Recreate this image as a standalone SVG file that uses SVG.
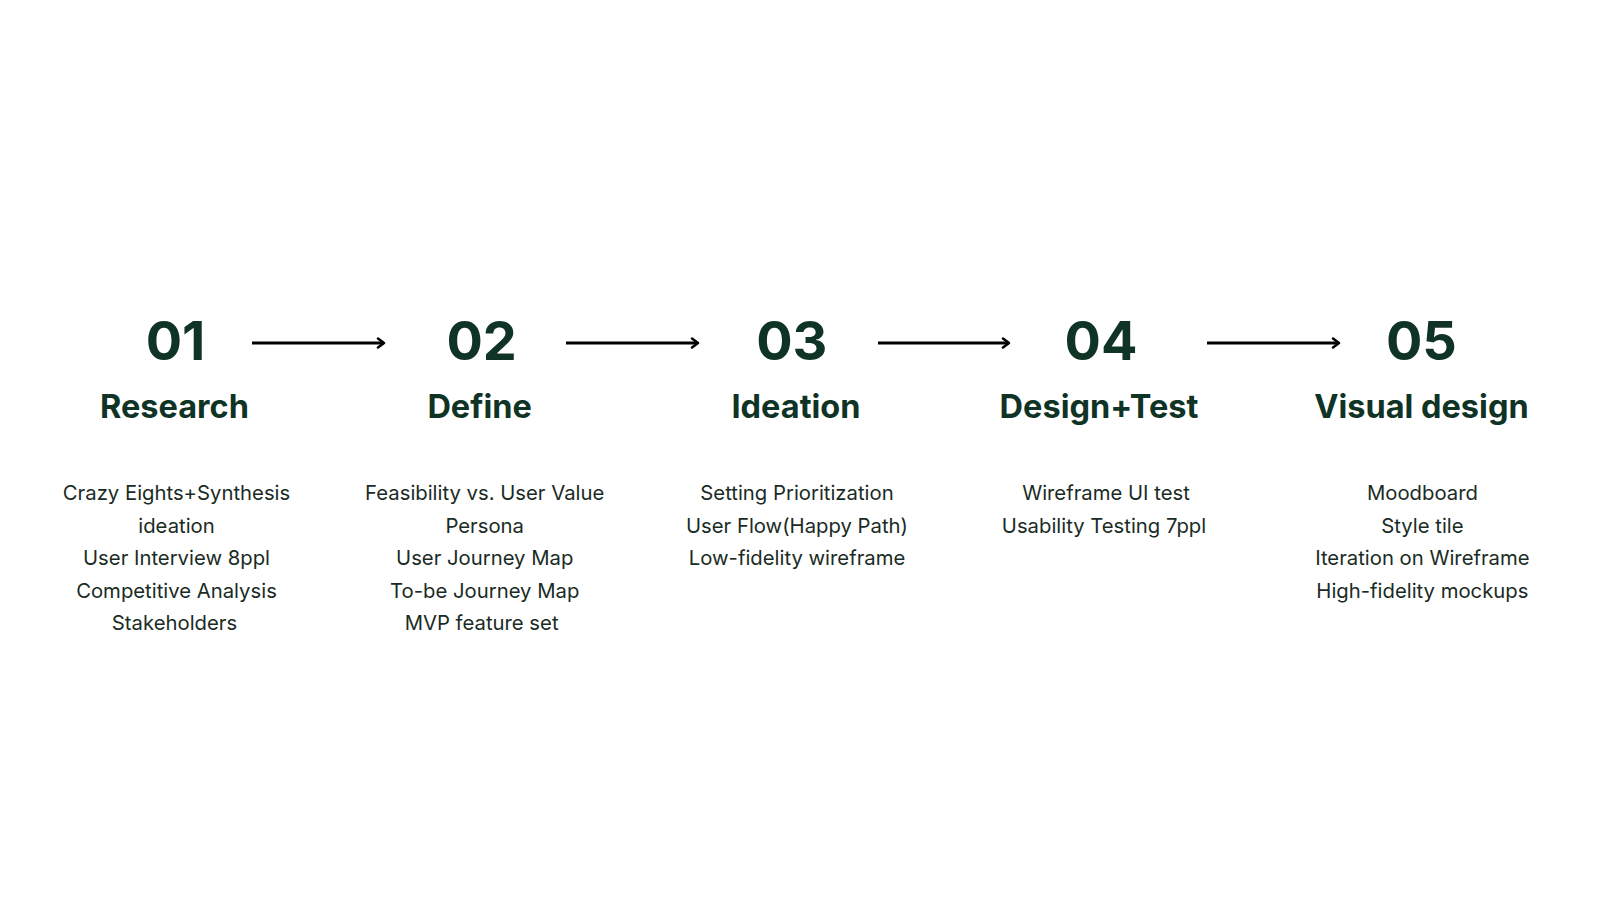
<svg xmlns="http://www.w3.org/2000/svg" width="1600" height="900" viewBox="0 0 1600 900">
<defs>
<style>
.num{font-family:Inter,"DejaVu Sans",sans-serif;font-weight:700;font-size:54px;fill:#0f3325;text-anchor:middle}
.ttl{font-family:Inter,"DejaVu Sans",sans-serif;font-weight:700;font-size:32.5px;fill:#0f3325;text-anchor:middle}
.itm{font-family:Inter,"DejaVu Sans",sans-serif;font-weight:400;font-size:20.3px;fill:#1a2b25;text-anchor:middle}
.arr{stroke:#000;stroke-width:3;fill:none;marker-end:url(#ah)}
</style>
<marker id="ah" markerWidth="12" markerHeight="12" refX="9" refY="6" orient="auto" markerUnits="userSpaceOnUse">
<path d="M3,1.5 L9,6 L3,10.5" fill="none" stroke="#000" stroke-width="2.5" stroke-linecap="round" stroke-linejoin="round"/>
</marker>
</defs>
<rect width="1600" height="900" fill="#fff"/>
<g id="connectors">
<line class="arr" x1="252" y1="343" x2="384" y2="343"/>
<line class="arr" x1="566" y1="343" x2="698" y2="343"/>
<line class="arr" x1="878" y1="343" x2="1009" y2="343"/>
<line class="arr" x1="1207" y1="343" x2="1339" y2="343"/>
</g>
<g id="step1">
<text class="num" x="175.5" y="360">01</text>
<text class="ttl" x="174.5" y="418">Research</text>
<text class="itm" x="176.5" y="500">Crazy Eights+Synthesis</text>
<text class="itm" x="176.5" y="532.5">ideation</text>
<text class="itm" x="176.5" y="565">User Interview 8ppl</text>
<text class="itm" x="176.5" y="597.5">Competitive Analysis</text>
<text class="itm" x="174.5" y="630">Stakeholders</text>
</g>
<g id="step2">
<text class="num" x="481.6" y="360">02</text>
<text class="ttl" x="479.6" y="418">Define</text>
<text class="itm" x="484.7" y="500">Feasibility vs. User Value</text>
<text class="itm" x="484.7" y="532.5">Persona</text>
<text class="itm" x="484.7" y="565">User Journey Map</text>
<text class="itm" x="484.7" y="597.5">To-be Journey Map</text>
<text class="itm" x="481.6" y="630">MVP feature set</text>
</g>
<g id="step3">
<text class="num" x="791.8" y="360">03</text>
<text class="ttl" x="796" y="418">Ideation</text>
<text class="itm" x="797" y="500">Setting Prioritization</text>
<text class="itm" x="797" y="532.5">User Flow(Happy Path)</text>
<text class="itm" x="797" y="565">Low-fidelity wireframe</text>
</g>
<g id="step4">
<text class="num" x="1101" y="360">04</text>
<text class="ttl" x="1099" y="418">Design+Test</text>
<text class="itm" x="1106" y="500">Wireframe UI test</text>
<text class="itm" x="1104" y="532.5">Usability Testing 7ppl</text>
</g>
<g id="step5">
<text class="num" x="1421.4" y="360">05</text>
<text class="ttl" x="1421.4" y="418">Visual design</text>
<text class="itm" x="1422.4" y="500">Moodboard</text>
<text class="itm" x="1422.4" y="532.5">Style tile</text>
<text class="itm" x="1422.4" y="565">Iteration on Wireframe</text>
<text class="itm" x="1422.4" y="597.5">High-fidelity mockups</text>
</g>
</svg>
